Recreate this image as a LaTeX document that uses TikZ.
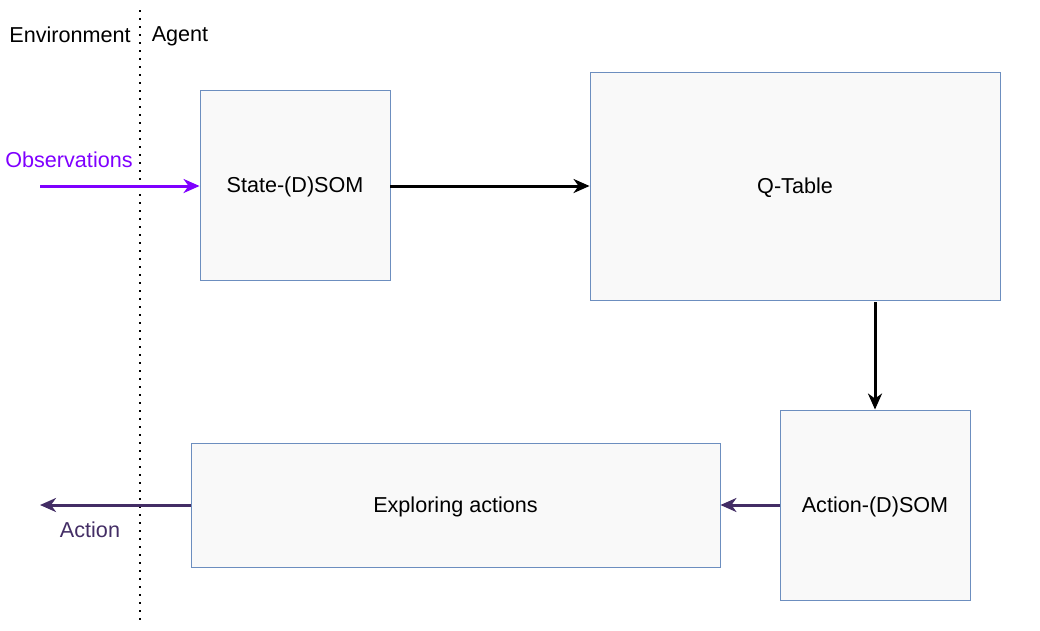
\documentclass[tikz,border=0pt]{standalone}
\usepackage{fontspec}
\setmainfont{Liberation Sans}
\usetikzlibrary{arrows.meta}
\definecolor{boxline}{HTML}{6C8EBF}
\definecolor{boxfill}{HTML}{F9F9F9}
\definecolor{obscol}{HTML}{7F00FF}
\definecolor{actcol}{HTML}{432D65}
\begin{document}
\begin{tikzpicture}[x=1pt,y=-1pt,
  font=\fontsize{21.6}{26}\selectfont,
  blk/.style={draw=boxline,fill=boxfill,line width=0.9pt,inner sep=0pt,anchor=center,text depth=0pt},
  conn/.style={line width=3pt,-{Stealth[length=16pt,width=14pt,inset=5pt]}},
  lbl/.style={inner sep=0pt,anchor=center,text depth=0pt}]
\useasboundingbox (0,0) rectangle (1040,630);
\coordinate (dtop) at (140,10);
\coordinate (dbot) at (140,622);
\draw[line width=2pt,dash pattern=on 2pt off 6pt,line cap=butt] (dtop) -- (dbot);
\node[lbl] (env) at (70,34.5) {Environment};
\node[lbl] (agent) at (180,34.5) {Agent};
\node[blk,minimum width=190pt,minimum height=190pt] (state) at (295,185) {State-(D)SOM};
\node[blk,minimum width=410pt,minimum height=228pt] (qtab) at (795,186) {Q-Table};
\node[blk,minimum width=190pt,minimum height=190pt] (asom) at (875,505) {Action-(D)SOM};
\node[blk,minimum width=529pt,minimum height=124pt] (expl) at (455.5,505) {Exploring actions};
\coordinate (obsstart) at (40,186);
\coordinate (actend) at (40,505);
\node[lbl,text=obscol] (obs) at (69,159.5) {Observations};
\node[lbl,text=actcol] (act) at (90,529.5) {Action};
\draw[conn,draw=obscol] (obsstart) -- (obsstart -| state.west);
\draw[conn] (state.east |- 0,186) -- (qtab.west |- 0,186);
\draw[conn] (qtab.south -| 875,0) ++(0,2) -- (asom.north);
\draw[conn,draw=actcol] (asom.west) -- (expl.east);
\draw[conn,draw=actcol] (expl.west) -- (actend);
\end{tikzpicture}
\end{document}
